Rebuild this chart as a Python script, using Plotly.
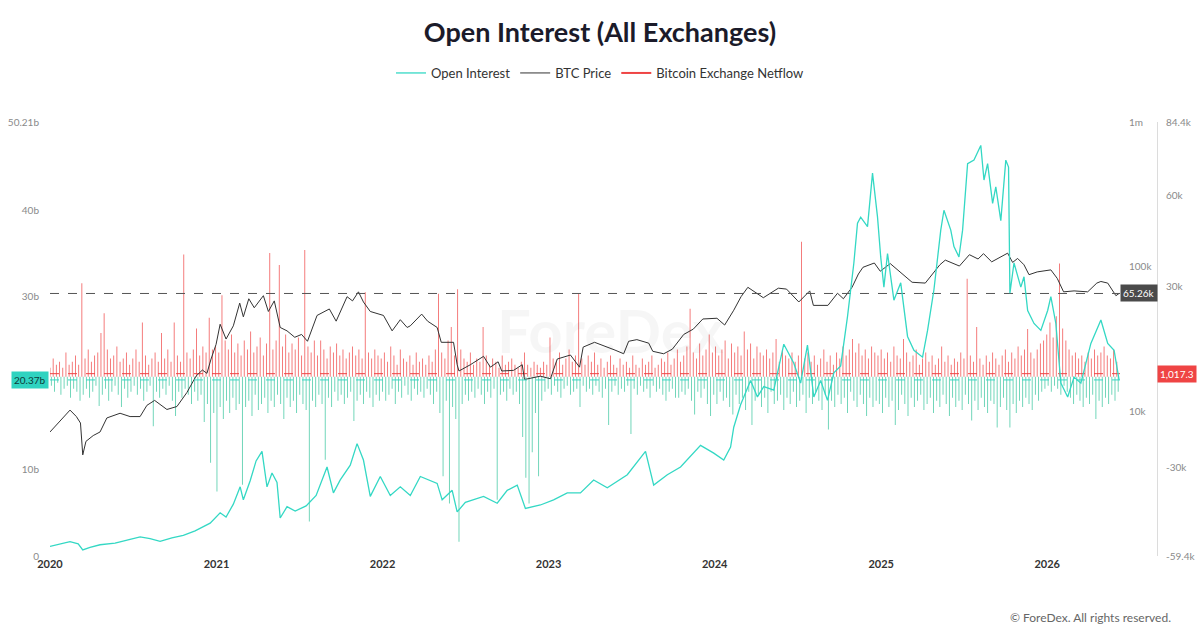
import numpy as np
import pandas as pd
import plotly.graph_objects as go

# ---------------- data ----------------
oi_dates = [
    "2020-01-01", "2020-01-23", "2020-02-14", "2020-03-03", "2020-03-13", "2020-03-29", "2020-04-20",
    "2020-05-23", "2020-06-25", "2020-07-17", "2020-08-08", "2020-08-30", "2020-09-25", "2020-10-20",
    "2020-11-15", "2020-11-26", "2020-12-18", "2021-01-09", "2021-01-22", "2021-02-07", "2021-02-22",
    "2021-03-01", "2021-03-16", "2021-03-29", "2021-04-11", "2021-04-22", "2021-05-03", "2021-05-14",
    "2021-05-21", "2021-06-05", "2021-06-23", "2021-07-17", "2021-08-08", "2021-09-01", "2021-09-15",
    "2021-09-30", "2021-10-22", "2021-11-06", "2021-11-20", "2021-12-05", "2021-12-27", "2022-01-18",
    "2022-02-09", "2022-03-03", "2022-03-25", "2022-05-01", "2022-05-12", "2022-06-03", "2022-06-14",
    "2022-07-02", "2022-07-20", "2022-08-11", "2022-09-10", "2022-10-02", "2022-10-24", "2022-11-11",
    "2022-12-14", "2023-01-12", "2023-02-11", "2023-03-12", "2023-04-10", "2023-05-10", "2023-06-23",
    "2023-08-02", "2023-08-20", "2023-09-19", "2023-10-18", "2023-12-01", "2023-12-30", "2024-01-21",
    "2024-02-05", "2024-02-12", "2024-02-27", "2024-03-20", "2024-04-04", "2024-04-18", "2024-05-10",
    "2024-06-01", "2024-06-23", "2024-07-08", "2024-07-23", "2024-08-06", "2024-08-21", "2024-09-05",
    "2024-09-19", "2024-10-04", "2024-10-19", "2024-11-02", "2024-11-10", "2024-11-17", "2024-12-02",
    "2024-12-13", "2024-12-24", "2024-12-31", "2025-01-07", "2025-01-15", "2025-01-29", "2025-02-13",
    "2025-02-28", "2025-03-14", "2025-04-02", "2025-04-13", "2025-04-27", "2025-05-12", "2025-05-19",
    "2025-06-03", "2025-06-10", "2025-06-21", "2025-06-29", "2025-07-10", "2025-07-24", "2025-08-08",
    "2025-08-15", "2025-08-23", "2025-09-03", "2025-09-10", "2025-09-21", "2025-10-02", "2025-10-08",
    "2025-10-11", "2025-10-20", "2025-11-04", "2025-11-11", "2025-11-19", "2025-12-03", "2025-12-18",
    "2026-01-02", "2026-01-09", "2026-01-20", "2026-01-31", "2026-02-15", "2026-03-01", "2026-03-16",
    "2026-04-07", "2026-04-29", "2026-05-14", "2026-05-28", "2026-06-08",
]
oi_values_b = [
    1.1, 1.4, 1.65, 1.4, 0.7, 1.0, 1.3,
    1.5, 1.9, 2.2, 2.0, 1.7, 2.1, 2.4,
    2.9, 3.2, 3.8, 5.0, 4.5, 6.0, 8.0,
    6.5, 8.7, 11.0, 12.1, 8.0, 9.6, 8.5,
    4.4, 5.7, 5.2, 5.8, 7.0, 10.3, 7.3,
    8.8, 10.5, 13.0, 11.1, 6.9, 9.2, 7.0,
    8.0, 7.0, 9.2, 8.4, 6.5, 7.6, 5.1,
    6.2, 6.5, 6.9, 6.1, 7.6, 8.2, 5.5,
    5.9, 6.5, 7.3, 7.3, 8.8, 7.9, 9.4,
    12.1, 8.2, 9.4, 10.3, 12.8, 11.9, 11.1,
    12.6, 14.9, 17.5, 20.3, 18.4, 19.6, 19.2,
    24.5, 22.3, 20.0, 24.4, 18.4, 20.3, 18.0,
    21.2, 22.0, 27.7, 33.9, 38.5, 39.2, 38.1,
    44.3, 39.2, 34.6, 31.1, 35.0, 29.6, 31.6,
    25.4, 23.8, 23.0, 26.1, 30.8, 37.7, 40.0,
    37.7, 35.8, 34.6, 37.7, 45.4, 45.8, 47.5,
    43.5, 45.4, 40.8, 42.7, 38.8, 45.8, 45.0,
    30.4, 33.9, 31.1, 32.3, 28.4, 26.9, 26.1,
    28.4, 30.0, 26.9, 20.0, 18.4, 20.7, 20.0,
    24.6, 27.3, 24.6, 23.8, 20.37,
]

btc_dates = [
    "2020-01-01", "2020-01-23", "2020-02-14", "2020-02-28", "2020-03-08", "2020-03-13", "2020-03-20",
    "2020-04-05", "2020-04-20", "2020-05-05", "2020-06-03", "2020-06-25", "2020-07-17", "2020-08-01",
    "2020-08-18", "2020-09-14", "2020-10-06", "2020-10-28", "2020-11-17", "2020-12-01", "2020-12-11",
    "2020-12-20", "2020-12-31", "2021-01-09", "2021-01-22", "2021-02-07", "2021-02-21", "2021-03-01",
    "2021-03-13", "2021-03-25", "2021-04-14", "2021-04-25", "2021-05-08", "2021-05-21", "2021-06-05",
    "2021-06-22", "2021-07-07", "2021-07-20", "2021-08-10", "2021-09-06", "2021-09-21", "2021-10-15",
    "2021-10-27", "2021-11-09", "2021-11-20", "2021-12-05", "2022-01-03", "2022-01-22", "2022-02-09",
    "2022-02-24", "2022-03-03", "2022-03-28", "2022-04-10", "2022-05-01", "2022-05-10", "2022-06-06",
    "2022-06-14", "2022-06-18", "2022-07-13", "2022-08-11", "2022-08-26", "2022-09-12", "2022-09-20",
    "2022-10-16", "2022-11-04", "2022-11-09", "2022-12-14", "2023-01-05", "2023-01-20", "2023-02-18",
    "2023-03-10", "2023-03-18", "2023-04-12", "2023-05-27", "2023-06-15", "2023-06-26", "2023-07-14",
    "2023-08-09", "2023-08-18", "2023-09-11", "2023-09-30", "2023-10-25", "2023-11-15", "2023-12-06",
    "2024-01-06", "2024-01-23", "2024-02-12", "2024-02-28", "2024-03-14", "2024-04-17", "2024-05-20",
    "2024-06-07", "2024-07-04", "2024-07-28", "2024-08-05", "2024-09-06", "2024-09-27", "2024-10-10",
    "2024-10-29", "2024-11-12", "2024-11-22", "2024-12-17", "2024-12-30", "2025-01-21", "2025-02-03",
    "2025-02-27", "2025-03-10", "2025-04-08", "2025-05-10", "2025-05-22", "2025-06-22", "2025-07-14",
    "2025-08-02", "2025-08-14", "2025-09-01", "2025-10-06", "2025-10-17", "2025-10-28", "2025-11-11",
    "2025-11-22", "2025-12-10", "2026-01-09", "2026-01-23", "2026-02-06", "2026-03-01", "2026-03-31",
    "2026-04-20", "2026-04-29", "2026-05-14", "2026-06-01", "2026-06-08",
]
btc_values_k = [
    7.2, 8.6, 10.2, 9.2, 8.3, 5.0, 6.2,
    6.8, 7.2, 9.0, 9.7, 9.2, 9.2, 11.0,
    11.9, 10.3, 10.8, 13.5, 17.5, 19.3, 18.3,
    23.0, 29.0, 40.0, 31.6, 39.0, 56.0, 45.0,
    60.0, 52.0, 63.0, 49.0, 58.0, 38.0, 36.0,
    32.5, 34.0, 30.5, 46.0, 51.0, 42.0, 62.0,
    58.0, 67.0, 57.0, 49.0, 46.0, 36.0, 43.0,
    38.0, 39.0, 47.0, 42.0, 38.0, 30.0, 30.0,
    21.0, 19.0, 21.0, 24.0, 20.2, 22.0, 19.0,
    19.2, 21.0, 16.6, 17.5, 16.8, 23.0, 24.5,
    20.2, 27.8, 30.0, 26.5, 25.0, 30.5, 31.3,
    29.6, 26.0, 25.0, 26.9, 34.0, 37.0, 43.5,
    44.0, 39.5, 50.0, 62.0, 72.0, 61.0, 71.0,
    70.0, 57.0, 68.0, 54.0, 54.0, 65.5, 60.0,
    72.0, 89.0, 99.0, 106.0, 93.0, 105.0, 97.0,
    84.0, 78.0, 77.0, 103.0, 111.0, 101.0, 121.0,
    113.0, 123.0, 108.0, 124.0, 107.0, 114.0, 103.0,
    88.0, 92.0, 95.0, 83.0, 67.0, 68.0, 67.0,
    77.0, 79.0, 77.0, 63.0, 65.26,
]

# weekly exchange netflow (thousand BTC): inflow weeks and outflow weeks
netflow_in_start = "2020-01-01"
netflow_out_start = "2020-01-04"
netflow_in_k = [
    # 2020
    3, 6, 4, 5, 3, 8, 4, 5, 7, 4, 31, 6, 9, 5, 7, 8, 14.5, 21, 9, 6,
    7, 10, 5, 6, 8, 4, 6, 9, 5, 18, 7, 4, 6, 8, 5, 14.5, 6, 9, 5, 18,
    7, 5, 40.5, 8, 6, 9, 16, 7, 10, 8, 19.5, 9,
    # 2021
    10, 8, 27, 12, 9, 14, 8, 11, 7, 12, 9, 15, 8, 10, 13, 7, 11, 41, 9, 12,
    37, 10, 14, 8, 11, 9, 13, 7, 42, 10, 8, 12, 7, 12, 9, 6, 10, 8, 11, 7,
    9, 6, 8, 10, 7, 9, 6, 28, 8, 6, 9, 7,
    # 2022
    6, 8, 5, 10, 7, 4, 9, 6, 5, 7, 4, 8, 5, 6, 4, 7, 5, 9, 27.5, 8,
    6, 12, 16.5, 7, 29, 9, 6, 5, 8, 4, 6, 5, 16.5, 7, 4, 6, 5, 3, 7, 4,
    5, 6, 4, 3, 5, 8, 4, 3, 5, 4, 3, 5,
    # 2023
    4, 13, 6, 5, 8, 4, 6, 9, 5, 7, 27.5, 6, 4, 7, 5, 8, 4, 6, 3, 5,
    7, 4, 3, 6, 4, 5, 3, 7, 4, 3, 6, 4, 5, 7, 3, 4, 6, 5, 8, 4,
    6, 9, 5, 7, 10, 22.5, 8, 6, 11, 7, 9, 14,
    # 2024
    8, 10, 7, 9, 12, 6, 11, 8, 10, 7, 15, 9, 11, 6, 10, 8, 7, 9, 6, 8,
    12.5, 5, 9, 7, 6, 8, 5, 7, 44.7, 6, 8, 5, 7, 4, 6, 9, 5, 7, 4, 8,
    6, 10, 7, 9, 12.5, 8, 11, 7, 9, 6, 10, 8,
    # 2025
    7, 9, 6, 8, 5, 10, 7, 6, 12.5, 8, 5, 7, 9, 4, 6, 8, 5, 7, 4, 6,
    10, 5, 7, 4, 6, 5, 8, 6, 32.5, 7, 5, 16.5, 6, 4, 7, 5, 8, 6, 4, 7,
    9, 5, 8, 6, 10, 7, 9, 15.8, 8, 6, 9, 11,
    # 2026
    12, 14, 18, 13, 20, 37.5, 16, 12, 9, 7, 8, 6, 7, 5, 8, 6, 9, 7, 8, 10,
    7, 6, 9, 5,
]
netflow_out_k = [
    # 2020
    -3, -5, -2, -6, -4, -3, -7, -4, -5, -8, -6, -4, -7, -5, -3, -9.7, -6, -4, -8, -5,
    -3, -6, -10, -4, -7, -5, -3, -6, -4, -8, -5, -3, -16.4, -5, -7, -4, -6, -3, -8, -13,
    -5, -7, -4, -6, -9, -5, -8, -6, -15, -9, -28.5, -12,
    # 2021
    -38, -10, -14, -8, -12, -7, -11, -9, -35.8, -10, -8, -13, -6, -11, -9, -7, -12, -8, -10, -6,
    -9, -14, -7, -10, -8, -12, -6, -9, -11, -48, -8, -10, -6, -9, -27.5, -7, -10, -5, -8, -6,
    -9, -7, -5, -14.7, -8, -6, -9, -5, -7, -10, -6, -8,
    # 2022
    -5, -8, -6, -4, -9, -5, -7, -3, -6, -8, -4, -6, -5, -7, -4, -6, -9, -5, -12, -33,
    -8, -42, -10, -14, -54.7, -9, -6, -8, -5, -7, -4, -6, -9, -5, -7, -4, -40.8, -6, -5, -8,
    -4, -6, -5, -9, -20, -33.5, -42, -25, -12, -33, -8, -5,
    # 2023
    -4, -6, -3, -5, -7, -4, -3, -6, -5, -4, -10, -3, -5, -4, -6, -3, -5, -7, -4, -16,
    -5, -3, -6, -4, -5, -3, -19, -4, -6, -3, -5, -4, -7, -3, -5, -4, -6, -8, -5, -4,
    -7, -7, -5, -6, -4, -8, -12.5, -5, -7, -4, -9, -13,
    # 2024
    -6, -9, -5, -8, -7, -10, -12.5, -6, -9, -7, -11, -5, -16, -8, -6, -10, -7, -12, -5, -9,
    -8, -6, -11, -7, -9, -5, -10, -8, -6, -12, -7, -9, -5, -8, -11, -6, -17.5, -8, -10, -6,
    -9, -7, -12, -5, -8, -10, -6, -9, -13, -7, -10, -8,
    # 2025
    -9, -12, -7, -10, -8, -16, -11, -6, -9, -13, -7, -10, -8, -6, -11, -9, -7, -12, -8, -10,
    -6, -9, -13, -7, -10, -8, -11, -6, -9, -14.5, -8, -11, -7, -10, -12, -8, -9, -16.8, -10, -7,
    -11, -16.8, -9, -12, -8, -10, -7, -9, -11, -6, -8, -5,
    # 2026
    -4, -3, -5, -3, -4, -6, -3, -5, -7, -9, -6, -8, -10, -7, -9, -6, -14, -8, -10, -7,
    -9, -6, -8, -5,
]

oi_last_b = 20.37
btc_last_k = 65.26
netflow_last = 1017.3

x_range = ["2020-01-01", "2026-06-10"]
year_ticks = ["2020", "2021", "2022", "2023", "2024", "2025", "2026"]

oi_tickvals_b = [0, 10, 30, 40, 50.21]
oi_ticktext = ["0", "10b", "30b", "40b", "50.21b"]
btc_tickvals = [1e4, 1e5, 1e6]
btc_ticktext = ["10k", "100k", "1m"]
nf_tickvals = [-59400, -30000, 30000, 60000, 84400]
nf_ticktext = ["-59.4k", "-30k", "30k", "60k", "84.4k"]

# ---------------- styles ----------------
FONT = "Lato"
TEAL = "#34d8c4"
RED = "#ef4444"
DARK = "#333333"

in_dates = pd.date_range(netflow_in_start, periods=len(netflow_in_k), freq="7D")
out_dates = pd.date_range(netflow_out_start, periods=len(netflow_out_k), freq="7D")
bar_w = 2 * 86400000

fig = go.Figure()

# netflow bars (main y axis = far right)
fig.add_trace(go.Bar(x=in_dates, y=[v * 1000 for v in netflow_in_k], yaxis="y",
                     width=bar_w, marker=dict(color="rgba(240,70,70,0.78)", line=dict(width=0)),
                     showlegend=False, hoverinfo="skip"))
fig.add_trace(go.Bar(x=out_dates, y=[v * 1000 for v in netflow_out_k], yaxis="y",
                     width=bar_w, marker=dict(color="rgba(40,192,150,0.72)", line=dict(width=0)),
                     showlegend=False, hoverinfo="skip"))
fig.add_trace(go.Scatter(x=x_range, y=[netflow_last, netflow_last], yaxis="y", mode="lines",
                         line=dict(color=RED, width=1, dash="dash"), showlegend=False, hoverinfo="skip"))
fig.add_trace(go.Scatter(x=[None], y=[None], yaxis="y", mode="lines", name="Bitcoin Exchange Netflow",
                         line=dict(color=RED, width=2), legendrank=3))

# BTC price (log, middle axis)
fig.add_trace(go.Scatter(x=btc_dates, y=[v * 1000 for v in btc_values_k], yaxis="y2", mode="lines",
                         name="BTC Price", line=dict(color=DARK, width=1), legendrank=2))
fig.add_trace(go.Scatter(x=x_range, y=[btc_last_k * 1000] * 2, yaxis="y2", mode="lines",
                         line=dict(color="#555555", width=1, dash="dash"), showlegend=False, hoverinfo="skip"))

# Open interest (left axis)
fig.add_trace(go.Scatter(x=oi_dates, y=[v * 1e9 for v in oi_values_b], yaxis="y3", mode="lines",
                         name="Open Interest", line=dict(color=TEAL, width=1.3), legendrank=1))
fig.add_trace(go.Scatter(x=x_range, y=[oi_last_b * 1e9] * 2, yaxis="y3", mode="lines",
                         line=dict(color=TEAL, width=1, dash="dash"), showlegend=False, hoverinfo="skip"))

L, R, T, B = 50, 30, 122, 74
paper_w = 1200 - L - R
paper_h = 630 - T - B
x_dom_end = (1120 - L) / paper_w
nf_pos = (1157 - L) / paper_w

tickfont = dict(family=FONT, size=10, color="#8a8a8a")

fig.update_layout(
    width=1200, height=630,
    margin=dict(l=L, r=R, t=T, b=B, autoexpand=False),
    paper_bgcolor="white", plot_bgcolor="white",
    font=dict(family=FONT, color=DARK),
    barmode="overlay",
    title=dict(text="Open Interest (All Exchanges)", x=0.5, xref="container", xanchor="center",
               y=1 - 33 / 630, yref="container", yanchor="middle",
               font=dict(family=FONT, size=27, color="#1b1b2a", weight="bold")),
    legend=dict(orientation="h", xref="container", yref="container", x=0.5, xanchor="center",
                y=1 - 73 / 630, yanchor="middle", font=dict(family=FONT, size=13, color="#333"),
                itemwidth=30, traceorder="normal", bgcolor="rgba(0,0,0,0)"),
    xaxis=dict(domain=[0, x_dom_end], type="date", range=x_range, automargin=False,
               tickvals=[f"{y}-01-01" for y in year_ticks], ticktext=year_ticks,
               showgrid=False, zeroline=False, showline=False, ticks="",
               ticklabelstandoff=0,
               tickfont=dict(family=FONT, size=11, color="#333", weight="bold")),
    yaxis=dict(range=[-59400, 84400], side="right", anchor="free", position=nf_pos, automargin=False,
               showline=True, linecolor="#dcdcdc", linewidth=1, showgrid=False, zeroline=False,
               tickvals=nf_tickvals, ticktext=nf_ticktext, ticks="", tickfont=tickfont,
               ticklabelstandoff=6),
    yaxis2=dict(type="log", range=[3, 6], overlaying="y", side="right", anchor="x", automargin=False,
                showgrid=False, zeroline=False, showline=False,
                tickvals=btc_tickvals, ticktext=btc_ticktext, ticks="", tickfont=tickfont,
                ticklabelstandoff=8),
    yaxis3=dict(range=[0, 50.21e9], overlaying="y", side="left", anchor="x", automargin=False,
                showgrid=False, zeroline=False, showline=False,
                tickvals=[v * 1e9 for v in oi_tickvals_b], ticktext=oi_ticktext, ticks="",
                tickfont=tickfont, ticklabelstandoff=10),
    showlegend=True,
)

annos = [
    dict(text="ForeDex", x=0.5, y=0.52, xref="paper", yref="paper", showarrow=False,
         font=dict(family=FONT, size=60, color="rgba(0,0,0,0.035)", weight="bold")),
    dict(text=f"{btc_last_k:.2f}k", x=(1120 - L) / paper_w, xanchor="left",
         y=np.log10(btc_last_k * 1000), yref="y2", xref="paper", showarrow=False,
         bgcolor="#4a4a4a", font=dict(family=FONT, size=10, color="white"), borderpad=2),
    dict(text=f"{netflow_last:,.1f}", x=nf_pos, xanchor="left", y=netflow_last, yref="y",
         xref="paper", showarrow=False, bgcolor=RED,
         font=dict(family=FONT, size=10, color="white"), borderpad=2),
    dict(text=f"{oi_last_b:.2f}b", x=-0.001, xanchor="right", y=oi_last_b * 1e9, yref="y3",
         xref="paper", showarrow=False, bgcolor="#2fd3c0",
         font=dict(family=FONT, size=10, color="#0d3b38"), borderpad=2),
    dict(text="© ForeDex. All rights reserved.", x=(1173 - L) / paper_w, xanchor="right", xref="paper",
         y=(556 - 617) / paper_h, yref="paper", yanchor="middle", showarrow=False,
         font=dict(family=FONT, size=12, color="#666")),
]
fig.update_layout(annotations=annos)

fig.write_html("out.html")
